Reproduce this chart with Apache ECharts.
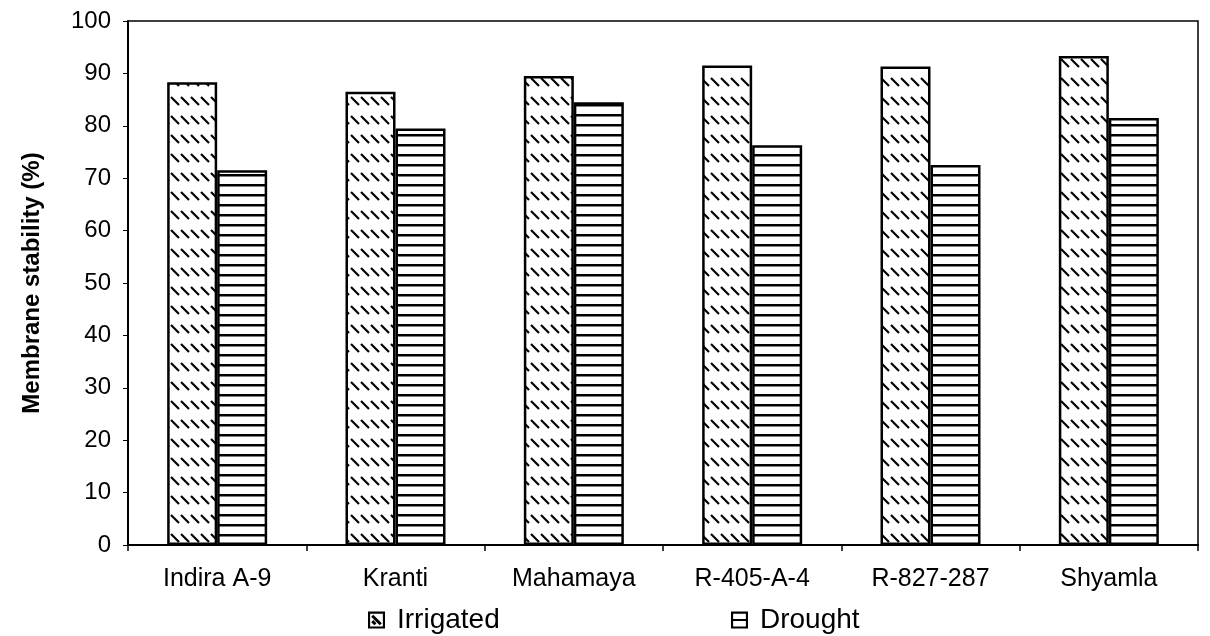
<!DOCTYPE html>
<html>
<head>
<meta charset="utf-8">
<script src="https://cdn.jsdelivr.net/npm/echarts@6/dist/echarts.min.js"></script>
<style>
  html, body { margin: 0; padding: 0; background: #fff; }
  #chart { width: 1210px; height: 636px; }
</style>
</head>
<body>
<div id="chart"></div>
<script>
// Varieties and membrane stability (%) under the two water regimes
const varieties = ['Indira A-9', 'Kranti', 'Mahamaya', 'R-405-A-4', 'R-827-287', 'Shyamla'];
const irrigated = [88.3, 86.5, 89.5, 91.5, 91.3, 93.3];
const drought = [71.5, 79.5, 84.5, 76.3, 72.5, 81.5];
const yTicks = [0, 10, 20, 30, 40, 50, 60, 70, 80, 90, 100];

const FONT = '"Liberation Sans", Arial, sans-serif';

// Hatch fill: rows of short back-slash dashes
function dashTile() {
  const c = document.createElement('canvas');
  c.width = 10; c.height = 19;
  const g = c.getContext('2d');
  g.fillStyle = '#fff';
  g.fillRect(0, 0, c.width, c.height);
  g.strokeStyle = '#000';
  g.lineWidth = 2.2;
  g.beginPath();
  g.moveTo(1, 2);
  g.lineTo(9, 10);
  g.stroke();
  return c;
}

// Hatch fill: horizontal rules
function ruleTile() {
  const c = document.createElement('canvas');
  c.width = 10; c.height = 10;
  const g = c.getContext('2d');
  g.fillStyle = '#fff';
  g.fillRect(0, 0, c.width, c.height);
  g.fillStyle = '#000';
  g.fillRect(0, 4, 10, 2.5);
  return c;
}

const iconIrrigated = 'path://M0,0H16V16H0Z M2,2V14H14V2Z M3,5L5,3L13,11L11,13Z M3,10L5,8L8,11L6,13Z';
const iconDrought = 'path://M0,0H16V16H0Z M2,2V14H14V2Z M2,7H14V9H2Z';

const chart = echarts.init(document.getElementById('chart'), null, { renderer: 'canvas' });

const legendText = { fontFamily: FONT, fontSize: 28, color: '#000', padding: [0, 0, 0, 7] };

chart.setOption({
  animation: false,
  backgroundColor: '#fff',
  grid: {
    left: 128, right: 12, top: 21, bottom: 91,
    show: true, borderColor: '#000', borderWidth: 1.5, backgroundColor: 'transparent'
  },
  legend: [
    {
      data: [{ name: 'Irrigated', icon: iconIrrigated }],
      left: 363, top: 601, itemWidth: 17, itemHeight: 17, itemGap: 0,
      textStyle: legendText,
      itemStyle: { color: '#000', borderWidth: 0 }
    },
    {
      data: [{ name: 'Drought', icon: iconDrought }],
      left: 726, top: 601, itemWidth: 17, itemHeight: 17, itemGap: 0,
      textStyle: legendText,
      itemStyle: { color: '#000', borderWidth: 0 }
    }
  ],
  xAxis: {
    type: 'category',
    data: varieties,
    axisLine: { lineStyle: { color: '#000', width: 2 } },
    axisTick: { show: true, length: 6, lineStyle: { color: '#000', width: 1.5 } },
    axisLabel: { fontFamily: FONT, fontSize: 25, color: '#000', margin: 22 }
  },
  yAxis: {
    type: 'value',
    min: yTicks[0], max: yTicks[yTicks.length - 1], interval: yTicks[1] - yTicks[0],
    name: 'Membrane stability (%)',
    nameLocation: 'middle',
    nameGap: 84,
    nameTextStyle: { fontFamily: FONT, fontSize: 24, fontWeight: 'bold', color: '#000' },
    axisLine: { show: true, lineStyle: { color: '#000', width: 2 } },
    axisTick: { show: true, length: 5, lineStyle: { color: '#000', width: 1 } },
    axisLabel: { fontFamily: FONT, fontSize: 24, color: '#000', margin: 17 },
    splitLine: { show: false }
  },
  series: [
    {
      name: 'Irrigated',
      type: 'bar',
      data: irrigated,
      barWidth: 50,
      barGap: '0%',
      itemStyle: { color: { image: dashTile(), repeat: 'repeat' }, borderColor: '#000', borderWidth: 2.5 }
    },
    {
      name: 'Drought',
      type: 'bar',
      data: drought,
      barWidth: 50,
      itemStyle: { color: { image: ruleTile(), repeat: 'repeat' }, borderColor: '#000', borderWidth: 2.5 }
    }
  ]
});
</script>
</body>
</html>
